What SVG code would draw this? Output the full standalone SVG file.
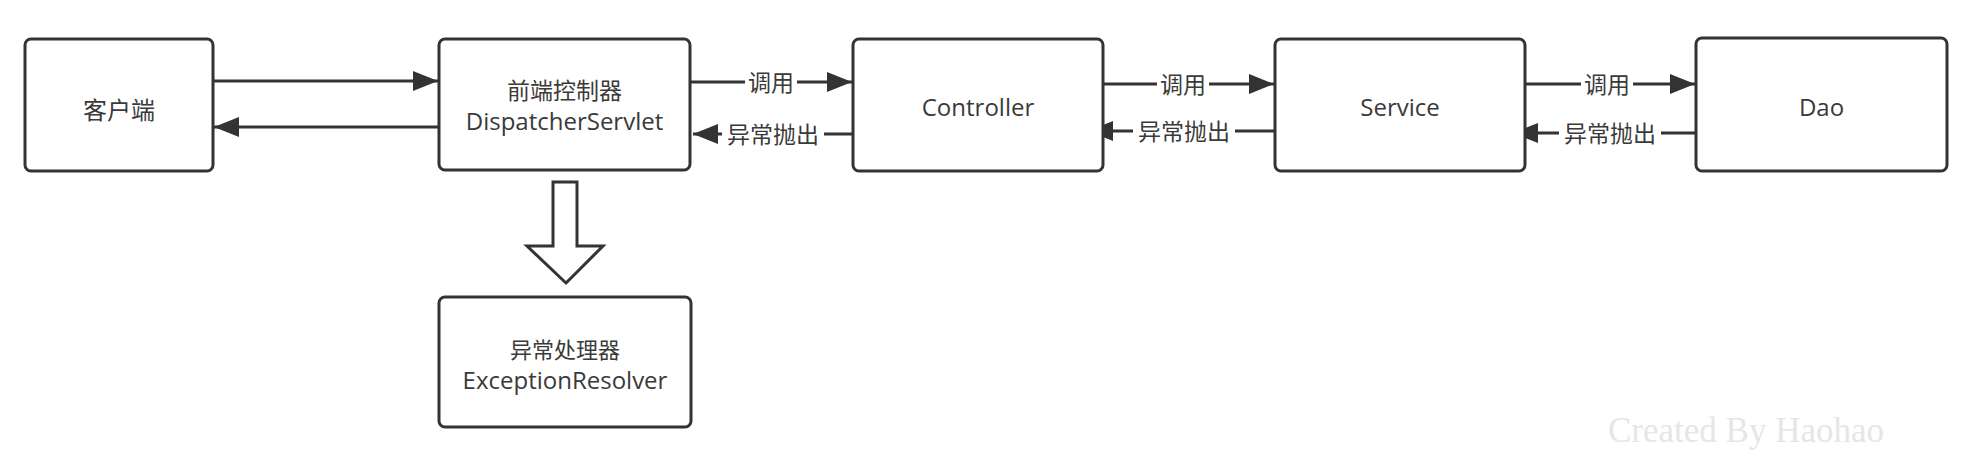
<svg xmlns="http://www.w3.org/2000/svg" width="1984" height="460" viewBox="0 0 1984 460">
<defs>
<style>
.box{fill:#fff;stroke:#333;stroke-width:3}
.t{font-family:"Open Sans","Noto Sans CJK SC",sans-serif;font-size:24px;fill:#3a3a3a;text-anchor:middle}
.lbl{font-family:"Noto Sans CJK SC",sans-serif;font-size:23px;fill:#3a3a3a;text-anchor:middle}
.ln{stroke:#333;stroke-width:3;fill:none}
.bg{fill:#fff}
</style>
<marker id="ah" markerWidth="25" markerHeight="20" refX="25" refY="10" orient="auto" markerUnits="userSpaceOnUse">
<path d="M0,0 L25,10 L0,20 Z" fill="#333"/>
</marker>
</defs>
<rect width="1984" height="460" fill="#fff"/>

<g id="connectors">
<line class="ln" x1="210" y1="81" x2="438" y2="81" marker-end="url(#ah)"/>
<line class="ln" x1="439" y1="127" x2="214" y2="127" marker-end="url(#ah)"/>

<line class="ln" x1="690" y1="82" x2="852" y2="82" marker-end="url(#ah)"/>
<rect class="bg" x="745" y="68" width="52" height="28"/>
<text class="lbl" x="771" y="91">调用</text>
<line class="ln" x1="853" y1="134" x2="693" y2="134" marker-end="url(#ah)"/>
<rect class="bg" x="722" y="120" width="102" height="30"/>
<text class="lbl" x="773" y="143">异常抛出</text>

<line class="ln" x1="1098" y1="84" x2="1274" y2="84" marker-end="url(#ah)"/>
<rect class="bg" x="1157" y="70" width="52" height="28"/>
<text class="lbl" x="1183" y="93">调用</text>
<line class="ln" x1="1275" y1="131" x2="1088" y2="131" marker-end="url(#ah)"/>
<rect class="bg" x="1133" y="117" width="102" height="30"/>
<text class="lbl" x="1184" y="140">异常抛出</text>

<line class="ln" x1="1525" y1="84" x2="1695" y2="84" marker-end="url(#ah)"/>
<rect class="bg" x="1581" y="70" width="52" height="28"/>
<text class="lbl" x="1607" y="93">调用</text>
<line class="ln" x1="1696" y1="133" x2="1513" y2="133" marker-end="url(#ah)"/>
<rect class="bg" x="1559" y="119" width="102" height="30"/>
<text class="lbl" x="1610" y="142">异常抛出</text>

<path d="M553,182 L577,182 L577,246 L603,246 L566,283 L527,246 L553,246 Z" fill="#fff" stroke="#333" stroke-width="3" stroke-linejoin="miter"/>
</g>

<g id="client">
<rect class="box" x="25" y="39" width="188" height="132" rx="6"/>
<text class="t" x="119" y="119">客户端</text>
</g>
<g id="dispatcher">
<rect class="box" x="439" y="39" width="251" height="131" rx="6"/>
<text class="t" x="564.5" y="99" style="font-size:23px">前端控制器</text>
<text class="t" x="564.5" y="130">DispatcherServlet</text>
</g>
<g id="controller">
<rect class="box" x="853" y="39" width="250" height="132" rx="6"/>
<text class="t" x="978" y="116">Controller</text>
</g>
<g id="service">
<rect class="box" x="1275" y="39" width="250" height="132" rx="6"/>
<text class="t" x="1400" y="116">Service</text>
</g>
<g id="dao">
<rect class="box" x="1696" y="38" width="251" height="133" rx="6"/>
<text class="t" x="1821.5" y="116">Dao</text>
</g>
<g id="resolver">
<rect class="box" x="439" y="297" width="252" height="130" rx="6"/>
<text class="t" x="565" y="358" style="font-size:22px">异常处理器</text>
<text class="t" x="565" y="389">ExceptionResolver</text>
</g>

<text x="1608" y="442" font-family="Liberation Serif, serif" font-size="35" fill="#e6e6e6">Created By Haohao</text>
</svg>
